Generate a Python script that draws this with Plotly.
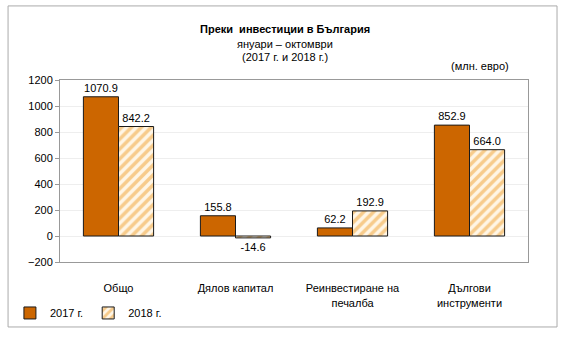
import plotly.graph_objects as go

# Категории и стойности (млн. евро)
categories = ["Общо", "Дялов капитал", "Реинвестиране на печалба", "Дългови инструменти"]
tick_labels = ["Общо", "Дялов капитал", "Реинвестиране на<br>печалба", "Дългови<br>инструменти"]
values_2017 = [1070.9, 155.8, 62.2, 852.9]
values_2018 = [842.2, -14.6, 192.9, 664.0]
series_names = ["2017 г.", "2018 г."]

FONT = "Liberation Sans, Arial, sans-serif"

fig = go.Figure()
fig.add_trace(go.Bar(
    x=categories, y=values_2017, name=series_names[0],
    marker=dict(color="#CC6600", line=dict(color="#1a1a1a", width=1)),
    text=[f"{v:.1f}" for v in values_2017], textposition="outside",
    textfont=dict(family=FONT, size=11, color="#000"), cliponaxis=False,
))
fig.add_trace(go.Bar(
    x=categories, y=values_2018, name=series_names[1],
    marker=dict(color="#FFFFFF", line=dict(color="#1a1a1a", width=1),
                pattern=dict(shape="/", fgcolor="#EFA030", bgcolor="#FFF6E6",
                             size=7, solidity=0.5)),
    text=[f"{v:.1f}" for v in values_2018], textposition="outside",
    textfont=dict(family=FONT, size=11, color="#000"), cliponaxis=False,
))

fig.update_layout(
    width=564, height=338,
    margin=dict(l=60, r=36, t=80, b=76, autoexpand=False),
    paper_bgcolor="white", plot_bgcolor="white",
    barmode="group", bargap=0.4, bargroupgap=0,
    font=dict(family=FONT, size=11, color="#000"),
    showlegend=True,
    legend=dict(orientation="h", x=-0.107, y=-0.28, xanchor="left", yanchor="middle",
                font=dict(size=11), itemwidth=30,
                bgcolor="rgba(0,0,0,0)"),
)
fig.update_xaxes(
    tickmode="array", tickvals=categories, ticktext=tick_labels,
    showline=True, linecolor="#999", mirror=True, ticks="",
    tickfont=dict(size=11), showgrid=False, automargin=False,
    ticklabelstandoff=16,
)
fig.update_yaxes(
    range=[-200, 1200], dtick=200, tickformat="d",
    showline=True, linecolor="#999", mirror=True,
    ticks="outside", ticklen=4, tickcolor="#999",
    gridcolor="#EEEEEE", zeroline=False, automargin=False,
    tickfont=dict(size=11),
)

# Заглавие и мерна единица
title_lines = [("<b>Преки  инвестиции в България</b>", 1.28),
               ("януари – октомври", 1.198),
               ("(2017 г. и 2018 г.)", 1.126)]
for txt, yy in title_lines:
    fig.add_annotation(text=txt, x=0.48, y=yy, xref="paper", yref="paper",
                       xanchor="center", yanchor="middle", showarrow=False,
                       font=dict(size=11))
fig.add_annotation(text="(млн. евро)", x=0.897, y=1.077, xref="paper", yref="paper",
                   xanchor="center", yanchor="middle", showarrow=False,
                   font=dict(size=11))

# Рамка около цялата диаграма
fig.add_shape(type="rect", xref="paper", yref="paper",
              x0=-0.111, x1=1.062, y0=-0.357, y1=1.407,
              line=dict(color="#AAAAAA", width=1))

fig.write_html("out.html")
